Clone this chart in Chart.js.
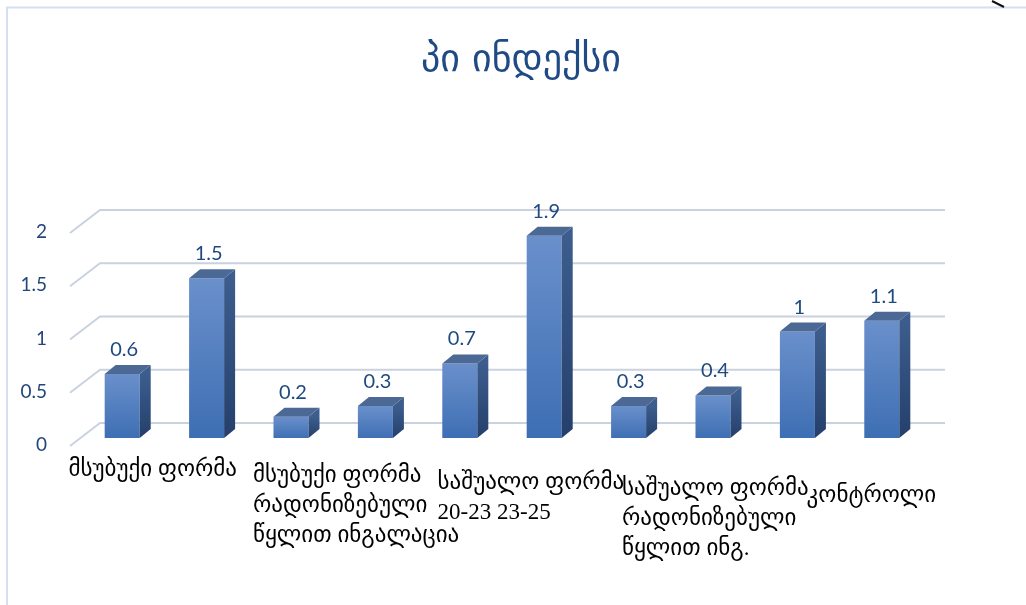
<!DOCTYPE html>
<html>
<head>
<meta charset="utf-8">
<script src="https://cdn.jsdelivr.net/npm/chart.js@4.4.1/dist/chart.umd.min.js"></script>
<style>
html,body{margin:0;padding:0;background:#fff;}
#wrap{width:1026px;height:605px;position:relative;}
</style>
</head>
<body>
<div id="wrap"><canvas id="c" width="1026" height="605"></canvas></div>
<script>
const chartTitle = 'პი ინდექსი';
const categories = [
  ['მსუბუქი ფორმა'], [''],
  ['მსუბუქი ფორმა', 'რადონიზებული', 'წყლით ინგალაცია'], [''],
  ['საშუალო ფორმა', '20-23 23-25'], [''],
  ['საშუალო ფორმა', 'რადონიზებული', 'წყლით ინგ.'], [''],
  ['კონტროლი'], ['']
];
const values = [0.6, 1.5, 0.2, 0.3, 0.7, 1.9, 0.3, 0.4, 1, 1.1];
const valueLabels = ['0.6', '1.5', '0.2', '0.3', '0.7', '1.9', '0.3', '0.4', '1', '1.1'];
const yTicks = [0, 0.5, 1, 1.5, 2];
const yTickLabels = ['0', '0.5', '1', '1.5', '2'];

const DEPTH_X = 11, DEPTH_Y = 9;

function frontGradient(ctx) {
  const chart = ctx.chart;
  const ys = chart.scales.y;
  if (!ys || ctx.dataIndex === undefined) return '#4a7abf';
  const top = ys.getPixelForValue(values[ctx.dataIndex]);
  const bot = ys.getPixelForValue(0);
  if (!isFinite(top) || !isFinite(bot)) return '#4a7abf';
  const g = chart.ctx.createLinearGradient(0, top, 0, bot + 1);
  g.addColorStop(0, '#6a90cb');
  g.addColorStop(1, '#3d6eb3');
  return g;
}

const decor = {
  id: 'decor',
  beforeDraw(chart) {
    const c = chart.ctx;
    const ys = chart.scales.y;
    c.save();
    c.strokeStyle = '#d3e0f1';
    c.lineWidth = 2;
    c.beginPath();
    c.moveTo(7, 605); c.lineTo(7, 7.5); c.lineTo(1026, 7.5);
    c.stroke();
    c.strokeStyle = '#111';
    c.lineWidth = 2;
    c.beginPath();
    c.moveTo(992, 1); c.quadraticCurveTo(998, 4, 1004, 7);
    c.stroke();
    c.fillStyle = '#1f4a85';
    c.font = '38px "DejaVu Sans"';
    c.textAlign = 'center';
    c.textBaseline = 'middle';
    c.fillText(chartTitle, 521, 61);
    yTicks.forEach((v, i) => {
      const py = ys.getPixelForValue(v);
      c.strokeStyle = '#c9d2de';
      c.lineWidth = 2;
      c.beginPath();
      c.moveTo(70, py + 8);
      c.lineTo(100, py - 15);
      c.lineTo(945, py - 15);
      c.stroke();
      c.fillStyle = '#24467a';
      c.font = '19px Lato, "Open Sans"';
      c.textAlign = 'right';
      c.textBaseline = 'middle';
      c.fillText(yTickLabels[i], 47, py + 7);
    });
    c.restore();
  },
  afterDatasetsDraw(chart) {
    const c = chart.ctx;
    const meta = chart.getDatasetMeta(0);
    const xs = chart.scales.x;
    c.save();
    meta.data.forEach((bar, i) => {
      const p = bar.getProps(['x', 'y', 'base', 'width'], true);
      const l = p.x - p.width / 2, r = p.x + p.width / 2, t = p.y, b = p.base;
      const sg = c.createLinearGradient(0, t, 0, b);
      sg.addColorStop(0, '#3c5d8d');
      sg.addColorStop(1, '#253f6b');
      c.fillStyle = sg;
      c.beginPath();
      c.moveTo(r, t); c.lineTo(r + DEPTH_X, t - DEPTH_Y);
      c.lineTo(r + DEPTH_X, b - DEPTH_Y); c.lineTo(r, b); c.closePath();
      c.fill();
      c.fillStyle = '#4c6996';
      c.beginPath();
      c.moveTo(l, t); c.lineTo(l + DEPTH_X, t - DEPTH_Y);
      c.lineTo(r + DEPTH_X, t - DEPTH_Y); c.lineTo(r, t); c.closePath();
      c.fill();
      c.fillStyle = '#1f4a80';
      c.font = '20px Lato, "Open Sans"';
      c.textAlign = 'center';
      c.textBaseline = 'alphabetic';
      c.fillText(valueLabels[i], p.x + 2, t - DEPTH_Y - 9);
    });
    c.fillStyle = '#000';
    c.font = '23px "Liberation Serif", "DejaVu Sans"';
    c.textAlign = 'left';
    c.textBaseline = 'middle';
    categories.forEach((lines, i) => {
      const cx = xs.getPixelForValue(i);
      const lx = 1.093 * cx - 65;
      const ly = 465 + 0.0386 * cx;
      lines.forEach((s, k) => c.fillText(s, lx, ly + k * 30));
    });
    c.restore();
  }
};

new Chart(document.getElementById('c'), {
  type: 'bar',
  data: {
    labels: categories,
    datasets: [{
      data: values,
      backgroundColor: frontGradient,
      borderWidth: 0,
      categoryPercentage: 0.83,
      barPercentage: 0.5
    }]
  },
  options: {
    responsive: false,
    animation: false,
    devicePixelRatio: 1,
    layout: { padding: { left: 80, right: 102, top: 225, bottom: 167 } },
    plugins: { legend: { display: false }, title: { display: false }, tooltip: { enabled: false } },
    scales: {
      x: { display: false, offset: true },
      y: { display: false, min: 0, max: 2 }
    }
  },
  plugins: [decor]
});
</script>
</body>
</html>
